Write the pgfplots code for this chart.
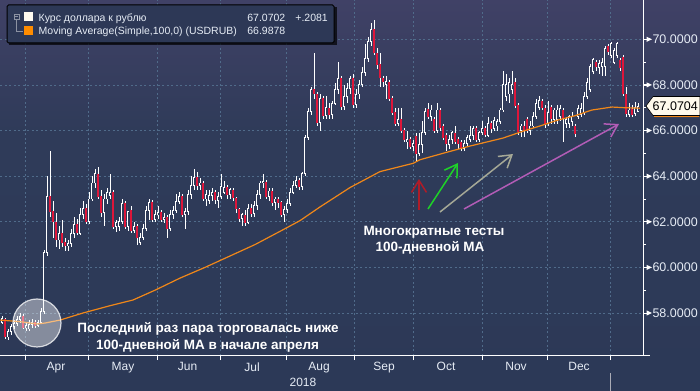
\documentclass[border=0pt]{standalone}
\usepackage{fontspec}
\setmainfont{Liberation Sans}
\usepackage{pgfplots}
\pgfplotsset{compat=1.18}
\usepackage{pgfplotstable}
\usetikzlibrary{arrows.meta}

\definecolor{bgtop}{RGB}{64,65,102}
\definecolor{bgmid}{RGB}{47,59,89}
\definecolor{bgbot}{RGB}{44,57,87}
\definecolor{gridc}{RGB}{80,107,138}
\definecolor{tickc}{RGB}{230,236,245}
\definecolor{cred}{RGB}{222,22,58}
\definecolor{maor}{RGB}{240,135,25}
\definecolor{legbg}{RGB}{45,56,86}
\definecolor{iconc}{RGB}{140,146,162}
\definecolor{legwhite}{RGB}{255,250,240}
\definecolor{legorange}{RGB}{255,140,0}
\definecolor{tagbg}{RGB}{255,250,236}
\definecolor{arrred}{RGB}{175,28,40}
\definecolor{arrgreen}{RGB}{30,210,40}
\definecolor{arrgrey}{RGB}{165,168,150}
\definecolor{arrpurple}{RGB}{178,92,182}
\definecolor{yearc}{RGB}{170,172,182}

\pgfplotstableread{
x o h l c
2 57.60 57.85 57.50 57.75
5 57.75 57.80 56.85 56.95
8 56.95 57.30 56.80 57.20
11 57.20 57.50 57.05 57.40
14 57.40 57.70 57.30 57.55
17 57.55 57.85 57.45 57.70
20 57.70 58.00 57.55 57.85
23 57.85 57.95 57.30 57.35
26 57.35 57.60 57.20 57.45
29 57.30 57.70 57.20 57.50
32 57.50 57.75 57.35 57.60
35 57.60 57.70 57.35 57.45
38 57.45 57.70 57.40 57.60
41 57.60 58.20 57.55 58.05
44 58.05 60.75 57.95 60.65
47 60.65 64.00 60.50 63.10
50 63.10 65.10 62.20 62.45
53 62.45 62.90 61.30 62.00
56 62.00 62.40 60.90 61.20
59 61.20 61.80 60.80 61.50
62 61.50 62.10 60.90 61.10
65 61.10 61.30 60.70 60.95
68 60.95 61.20 60.70 61.05
71 61.05 61.70 60.90 61.50
74 61.50 62.20 61.30 61.90
77 61.90 62.10 61.40 61.50
80 61.50 62.60 61.40 62.30
83 62.30 62.90 62.10 62.60
86 62.60 62.80 61.90 62.00
89 62.00 63.30 61.90 63.00
92 63.00 64.00 62.90 63.70
95 63.70 64.30 63.50 64.10
98 64.10 64.40 63.00 63.10
101 63.10 63.40 62.20 62.40
104 62.40 63.20 61.80 63.00
107 63.00 63.50 62.80 63.30
110 63.15 64.10 63.00 63.30
113 63.30 63.40 61.70 61.80
116 61.80 62.10 61.55 61.95
119 61.80 62.20 61.60 62.00
122 62.00 63.00 61.90 62.80
125 62.80 62.90 61.70 61.80
128 61.80 62.40 61.60 62.45
131 62.50 62.70 61.50 61.60
134 61.60 62.00 61.50 61.80
137 61.80 61.90 61.00 61.30
140 61.10 61.50 61.00 61.30
143 61.30 61.90 61.20 61.70
146 61.70 62.70 61.60 62.50
149 62.50 63.00 62.10 62.85
152 62.85 62.95 62.00 62.10
155 62.10 62.50 62.00 62.30
158 62.30 62.70 62.10 62.40
161 62.40 62.50 62.00 62.10
164 62.10 62.40 61.95 62.20
167 62.20 62.30 61.30 61.70
170 61.70 62.50 61.60 62.30
173 62.30 62.70 62.10 62.50
176 62.50 63.20 62.40 62.90
179 62.90 63.30 62.80 63.10
182 63.10 63.20 62.20 62.30
185 62.30 62.60 61.70 62.45
188 62.45 63.40 62.30 63.20
191 63.20 64.00 63.00 63.60
194 63.60 64.30 63.40 63.95
197 63.95 64.20 63.40 63.60
200 63.60 63.90 63.40 63.70
203 63.70 63.80 62.90 63.00
206 63.00 63.40 62.70 63.20
209 62.95 63.40 62.80 63.15
212 63.15 63.50 62.90 63.30
215 63.30 63.40 62.80 62.95
218 62.95 63.30 62.60 63.10
221 63.10 64.10 63.00 63.55
224 63.30 63.80 63.20 63.50
227 63.50 63.60 63.00 63.20
230 63.20 63.50 63.00 63.40
233 63.40 63.50 62.90 63.05
236 63.05 63.10 62.40 62.55
239 62.55 62.60 62.00 62.15
242 62.15 62.40 61.80 62.30
245 62.30 62.50 61.80 61.95
248 61.95 62.80 61.90 62.60
251 62.60 62.80 62.20 62.35
254 62.35 62.90 62.20 62.70
257 62.70 63.40 62.50 63.20
260 63.20 63.80 63.00 63.70
263 63.70 64.10 63.50 63.75
266 63.75 63.85 63.00 63.10
269 63.10 63.50 62.90 63.35
272 63.35 63.50 62.70 62.85
275 62.85 63.10 62.50 63.00
278 63.00 63.10 62.60 62.85
281 62.85 62.90 62.20 62.30
284 62.30 62.70 62.00 62.55
287 62.55 63.00 62.40 62.80
290 62.80 63.50 62.70 63.30
293 63.30 63.80 63.20 63.60
296 63.60 64.00 63.50 63.80
299 63.80 63.90 63.40 63.55
302 63.55 64.20 63.40 64.10
305 64.10 65.80 64.00 65.70
308 65.70 67.00 65.60 66.85
311 66.85 67.90 66.70 67.80
314 67.80 69.40 67.40 67.60
317 67.60 67.70 66.20 66.35
320 66.35 67.60 66.00 67.40
323 67.40 67.50 66.50 66.65
326 66.65 67.50 66.50 67.00
329 67.00 67.20 66.50 66.70
332 66.70 67.30 66.50 67.20
335 67.20 68.10 67.10 67.80
338 67.80 69.00 67.60 68.30
341 68.30 68.40 66.90 67.05
344 67.05 68.00 66.90 67.50
347 67.50 68.10 67.20 67.85
350 67.85 68.40 67.60 68.30
353 68.30 68.50 67.00 67.15
356 67.15 67.80 67.00 67.60
359 67.60 68.20 67.40 68.00
362 68.00 68.80 67.90 68.55
365 68.55 69.80 68.40 69.15
368 69.15 70.10 69.00 69.90
371 69.90 70.70 69.70 70.45
374 70.45 70.85 69.30 69.40
377 69.40 69.60 68.70 68.90
380 68.90 69.40 67.90 68.30
383 68.30 68.40 67.90 68.15
386 68.00 68.40 67.40 68.15
389 68.10 68.20 67.30 67.40
392 67.40 67.50 66.70 66.80
395 66.80 67.00 66.20 66.30
398 66.30 67.00 66.20 66.50
401 66.50 67.00 65.90 66.00
404 66.00 66.10 65.50 65.60
407 65.50 66.00 65.20 65.60
410 65.60 65.70 65.20 65.30
413 65.30 65.60 65.10 65.45
416 65.75 65.90 64.65 65.00
419 65.00 65.90 64.90 65.40
422 65.40 66.40 65.00 65.90
425 65.90 67.00 65.80 66.85
428 66.95 67.20 66.50 66.60
431 66.60 67.10 66.40 66.90
434 66.50 66.60 65.90 66.00
437 66.00 67.20 65.90 66.90
440 66.90 67.00 66.00 66.10
443 66.20 66.30 65.60 65.70
446 65.80 65.90 65.10 65.40
449 65.40 65.80 65.20 65.60
452 65.60 66.00 65.40 65.90
455 65.90 66.20 65.40 65.50
458 65.60 65.70 65.20 65.40
461 65.50 65.60 65.10 65.20
464 65.20 65.60 65.10 65.45
467 65.45 65.80 65.30 65.70
470 65.60 66.20 65.50 65.80
473 65.80 66.20 65.60 66.10
476 66.10 66.20 65.50 65.60
479 65.60 66.00 65.50 65.90
482 65.90 66.40 65.80 66.10
485 66.10 66.20 65.70 65.80
488 65.80 66.60 65.70 66.30
491 66.30 66.40 65.90 66.10
494 66.10 66.60 66.00 66.45
497 66.20 66.50 66.00 66.40
500 66.40 67.00 66.30 66.90
503 66.90 68.60 66.80 68.00
506 67.50 68.50 67.30 68.00
509 67.60 68.30 67.20 68.10
512 67.80 68.60 67.60 68.00
515 68.10 68.30 67.00 67.10
518 67.10 67.20 65.80 65.95
521 66.00 66.30 65.70 66.20
524 66.20 66.40 65.70 66.00
527 66.50 66.60 65.90 66.00
530 66.00 66.40 65.80 66.20
533 66.20 66.80 66.10 66.60
536 66.60 67.40 66.50 67.20
539 67.00 67.50 66.90 67.30
542 67.30 67.40 66.90 67.00
545 67.00 67.10 66.10 66.25
548 66.30 67.30 66.20 66.80
551 67.00 67.10 66.30 66.50
554 66.50 67.00 66.30 66.90
557 66.50 67.10 66.30 66.90
560 66.60 67.10 66.40 66.95
563 66.90 67.00 65.50 66.50
566 66.30 66.60 66.10 66.50
569 66.30 66.70 66.10 66.60
572 66.40 66.80 66.20 66.60
575 66.20 66.30 65.70 65.85
578 66.60 67.10 66.50 66.95
581 66.70 67.20 66.60 66.95
584 66.80 67.70 66.70 67.50
587 67.50 68.30 67.40 68.10
590 67.80 68.90 67.70 68.80
593 68.60 69.20 68.50 69.10
596 69.00 69.10 68.60 68.80
599 68.75 69.10 68.50 68.95
602 68.80 69.20 68.40 69.00
605 68.80 69.70 68.40 69.60
608 69.70 69.80 69.30 69.45
611 69.30 69.90 69.20 69.80
614 69.00 69.60 68.90 69.50
617 69.30 69.90 69.20 69.80
620 69.10 69.20 68.60 68.75
623 69.20 69.30 67.50 67.60
626 67.60 67.90 66.60 66.75
629 66.70 67.20 66.60 66.90
632 66.95 67.10 66.60 66.70
635 66.75 67.25 66.65 67.00
638 66.85 67.20 66.80 67.07
}\cd

\begin{document}
\begin{tikzpicture}
\useasboundingbox (0,0) rectangle (700bp,391bp);
\shade[top color=bgtop,bottom color=bgmid] (0bp,261bp) rectangle (700bp,391bp);
\shade[top color=bgmid,bottom color=bgbot] (0bp,0bp) rectangle (700bp,261.5bp);

\begin{axis}[
  at={(0bp,35bp)}, anchor=south west,
  scale only axis, width=643bp, height=356bp,
  xmin=0, xmax=643, ymin=56.115, ymax=71.723,
  axis line style={draw=none},
  xtick={25,88,157,220,286,354,413,482,547,610},
  xticklabels={,,,,,,,,,},
  extra x ticks={56,123,187.5,252,319,384,446,516,579},
  extra x tick labels={Apr,May,Jun,Jul,Aug,Sep,Oct,Nov,Dec},
  extra x tick style={grid=none, major tick length=0pt, tick style={draw=none},
    xticklabel style={yshift=-3bp}},
  ytick={58,60,...,70},
  minor y tick num=1,
  xtick pos=bottom, ytick pos=right, yticklabel pos=right,
  tick align=outside, major tick length=4bp, minor tick length=3bp,
  tick style={white, line width=0.8bp},
  grid=major,
  major grid style={gridc, line width=0.7bp, dash pattern=on 2bp off 2.5bp},
  tick label style={font=\fontsize{12.5bp}{14bp}\selectfont, text=tickc},
  xticklabel style={font=\fontsize{12bp}{14bp}\selectfont},
  yticklabel style={anchor=west, xshift=2bp},
  /pgf/number format/fixed, /pgf/number format/fixed zerofill,
  /pgf/number format/precision=4, /pgf/number format/assume math mode=true,
  scaled y ticks=false,
]
% wicks
\addplot[forget plot, draw=none, mark=none,
  error bars/.cd, y dir=both, y explicit, error mark=none,
  error bar style={draw=white, line width=0.9bp}]
  table[x=x, y expr={(\thisrow{h}+\thisrow{l})/2}, y error expr={(\thisrow{h}-\thisrow{l})/2}] {\cd};
% up bodies (white outline)
\addplot[forget plot, draw=none, mark=none, restrict y to domain=50:80,
  error bars/.cd, y dir=both, y explicit, error mark=none,
  error bar style={draw=white, line width=2.5bp}]
  table[x=x, y expr={((\thisrow{c}-\thisrow{o})>(-0.0001)) ? (\thisrow{o}+\thisrow{c})/2 : -100},
        y error expr={max(abs(\thisrow{c}-\thisrow{o})/2+0.02,0.035)}] {\cd};
% up bodies (hollow inside)
\addplot[forget plot, draw=none, mark=none, restrict y to domain=50:80,
  error bars/.cd, y dir=both, y explicit, error mark=none,
  error bar style={draw=bgmid, line width=1.0bp}]
  table[x=x, y expr={((\thisrow{c}-\thisrow{o})>(-0.0001)) ? (\thisrow{o}+\thisrow{c})/2 : -100},
        y error expr={max(abs(\thisrow{c}-\thisrow{o})/2-0.02,0)}] {\cd};
% down bodies (red)
\addplot[forget plot, draw=none, mark=none, restrict y to domain=50:80,
  error bars/.cd, y dir=both, y explicit, error mark=none,
  error bar style={draw=cred, line width=2.3bp}]
  table[x=x, y expr={((\thisrow{c}-\thisrow{o})<(-0.0001)) ? (\thisrow{o}+\thisrow{c})/2 : -100},
        y error expr={max(abs(\thisrow{c}-\thisrow{o})/2+0.01,0.03)}] {\cd};
% moving average
\addplot[maor, line width=1.2bp, mark=none] coordinates {
(0,57.69) (20,57.62) (37,57.52) (45,57.56) (60,57.69) (83,58.0) (110,58.32)
(133,58.57) (155,59.0) (180,59.53) (205,60.0) (230,60.5) (255,61.0) (283,61.65)
(300,62.05) (320,62.65) (350,63.5) (380,64.2) (400,64.42) (413,64.56) (420,64.72)
(447,65.05) (470,65.32) (487,65.5) (503,65.67) (525,66.0) (540,66.2) (558,66.46)
(575,66.65) (592,66.9) (612,67.03) (625,67.0) (640,66.98)};
\end{axis}

\begin{scope}[x=1bp,y=-1bp,shift={(0,391bp)}]
 % axis lines
 \draw[white, line width=1bp] (0,356) -- (650,356);
 \draw[white, line width=1bp] (643,0) -- (643,356);
 \foreach \yy in {39.3,84.9,130.5,176.2,221.8,267.4,313.0} {
   \draw[white, line width=0.8bp] (643,\yy) -- (648,\yy);
   \fill[white] (646.5,\yy-2.6) -- (652,\yy) -- (646.5,\yy+2.6) -- cycle;
 }
 \draw[yearc, line width=1bp] (610,373) -- (610,391);
 \node[text=tickc, font=\fontsize{12bp}{14bp}\selectfont, inner sep=0] at (303,382.5) {2018};
 % price tag
 \fill[black!70] (648,107.5) -- (655,98) -- (701,98) -- (701,117.5) -- (655,117.5) -- cycle;
 \filldraw[fill=tagbg, draw=black, line width=0.6bp] (646,106) -- (653,96.5) -- (700,96.5) -- (700,115.5) -- (653,115.5) -- cycle;
 \draw[maor, line width=1bp] (654,116.6) -- (699,116.6);
 \node[anchor=base west, text=black, inner sep=0, font=\fontsize{12.5bp}{14bp}\selectfont] at (652.5,110.8) {67.0704};
 % circle
 \fill[white, fill opacity=0.42] (37,323) circle[radius=24bp];
 \draw[white, draw opacity=0.75, line width=1.2bp] (37,323) circle[radius=24bp];
 % arrows
 \draw[arrred, line width=1.5bp, -{Straight Barb[length=12bp,width=15bp]}] (419,210) -- (419,179);
 \draw[arrgreen, line width=1.5bp, -{Straight Barb[length=12bp,width=15bp]}] (428,209) -- (458,163);
 \draw[arrgrey, line width=1.5bp, -{Straight Barb[length=12bp,width=15bp]}] (440,212) -- (513,154);
 \draw[arrpurple, line width=1.5bp, -{Straight Barb[length=12bp,width=15bp]}] (464,209) -- (619,124);
 % annotations
 \begin{scope}[every node/.style={anchor=base, text=white, inner sep=0, font=\bfseries\fontsize{13.5bp}{16bp}\selectfont}]
 \node at (208,333) {Последний раз пара торговалась ниже};
 \node at (207.5,349.5) {100-дневной MA в начале апреля};
 \node at (434,236) {Многократные тесты};
 \node at (430,252) {100-дневной MA};
 \end{scope}
 % legend
 \fill[black, opacity=0.7] (9,7) rectangle (336.5,45.5);
 \filldraw[fill=legbg, draw=black, line width=1bp, rounded corners=1.5bp] (7,5) rectangle (334,43);
 \draw[iconc, line width=0.7bp] (14,14) rectangle (19.5,19.5);
 \draw[iconc, line width=0.7bp] (15.3,16.75) -- (18.2,16.75);
 \draw[iconc, line width=0.7bp] (16.75,19.5) -- (16.75,31) -- (22.5,31);
 \fill[legwhite] (24,12.5) rectangle (33,21.5);
 \fill[legorange] (24,26) rectangle (33,35);
 \begin{scope}[every node/.style={text=tickc, inner sep=0, font=\fontsize{10.5bp}{12bp}\selectfont}]
 \node[anchor=base west] at (38.5,21.7) {Курс доллара к рублю};
 \node[anchor=base west] at (38.5,34.3) {Moving Average(Simple,100,0) (USDRUB)};
 \node[anchor=base east] at (285.5,21.7) {67.0702};
 \node[anchor=base east] at (328,21.7) {+.2081};
 \node[anchor=base east] at (285.5,34.3) {66.9878};
 \end{scope}
\end{scope}
\end{tikzpicture}
\end{document}
